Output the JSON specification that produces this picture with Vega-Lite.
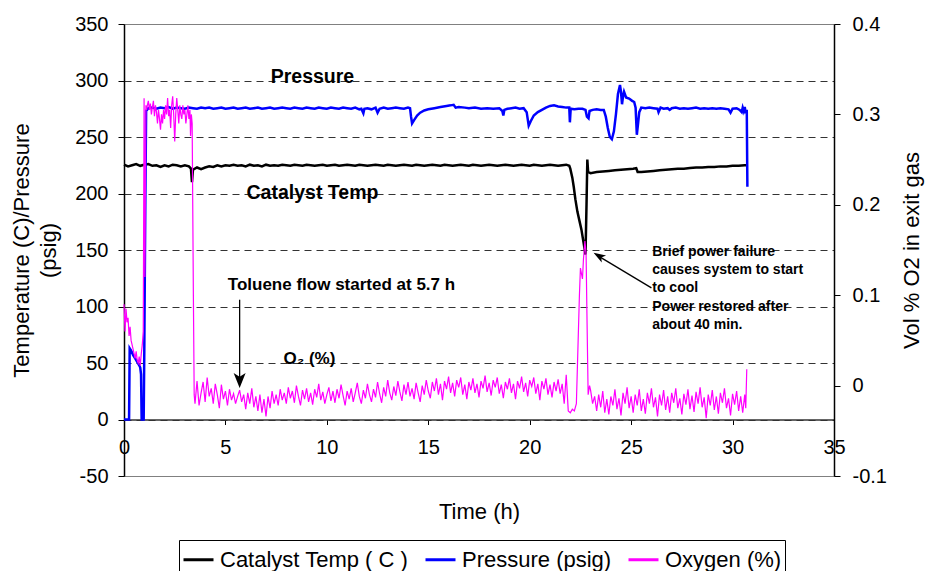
{
"$schema":"https://vega.github.io/schema/vega-lite/v6.json",
"width":710,"height":452,
"autosize":{"type":"none"},
"padding":{"left":124,"top":24,"right":91,"bottom":95},
"config":{
 "font":"Liberation Sans",
 "view":{"stroke":"#808080","strokeWidth":1},
 "axis":{"labelFont":"Liberation Sans","titleFont":"Liberation Sans","labelColor":"#000","titleColor":"#000","titleFontWeight":"normal","domainColor":"#000","tickColor":"#000","labelFontSize":20,"titleFontSize":22}
},
"datasets":{
"temp":[{"t":0,"v":225.5},{"t":0.2,"v":224},{"t":0.4,"v":225},{"t":0.6,"v":226},{"t":0.8,"v":224.5},{"t":1.0,"v":225.5},{"t":1.2,"v":226},{"t":1.4,"v":224.5},{"t":1.6,"v":225},{"t":1.8,"v":223.5},{"t":2.0,"v":225},{"t":2.2,"v":224},{"t":2.4,"v":225.5},{"t":2.6,"v":225},{"t":2.8,"v":224},{"t":3.0,"v":225},{"t":3.2,"v":224},{"t":3.3,"v":222},{"t":3.35,"v":210},{"t":3.4,"v":221},{"t":3.6,"v":223},{"t":3.8,"v":221.5},{"t":4.0,"v":223},{"t":4.2,"v":224},{"t":4.4,"v":223.5},{"t":4.6,"v":225},{"t":4.8,"v":224},{"t":5.0,"v":225},{"t":5.2,"v":224.5},{"t":5.4,"v":225.5},{"t":5.6,"v":224.5},{"t":5.8,"v":225},{"t":6.0,"v":224},{"t":6.2,"v":225.5},{"t":6.4,"v":224.5},{"t":6.6,"v":225},{"t":6.8,"v":224},{"t":7.0,"v":225.5},{"t":7.2,"v":224.5},{"t":7.4,"v":225},{"t":7.6,"v":224.5},{"t":7.8,"v":225.5},{"t":8.0,"v":225},{"t":8.2,"v":224.5},{"t":8.4,"v":225.5},{"t":8.6,"v":225},{"t":8.8,"v":224.5},{"t":9.0,"v":225.5},{"t":9.2,"v":225},{"t":9.4,"v":224.5},{"t":9.6,"v":225},{"t":9.8,"v":225.5},{"t":10.0,"v":224.5},{"t":10.2,"v":225},{"t":10.4,"v":225.5},{"t":10.6,"v":224.5},{"t":10.8,"v":225},{"t":11.0,"v":225.5},{"t":11.2,"v":225},{"t":11.4,"v":224.5},{"t":11.6,"v":225.5},{"t":11.8,"v":225},{"t":12.0,"v":224.5},{"t":12.2,"v":225},{"t":12.4,"v":225.5},{"t":12.6,"v":225},{"t":12.8,"v":224.5},{"t":13.0,"v":225.5},{"t":13.2,"v":225},{"t":13.4,"v":224.5},{"t":13.6,"v":225},{"t":13.8,"v":225.5},{"t":14.0,"v":225},{"t":14.2,"v":224.5},{"t":14.4,"v":225.5},{"t":14.6,"v":225},{"t":14.8,"v":224.5},{"t":15.0,"v":225},{"t":15.2,"v":225.5},{"t":15.4,"v":225},{"t":15.6,"v":224.5},{"t":15.8,"v":225.5},{"t":16.0,"v":225},{"t":16.2,"v":224.5},{"t":16.4,"v":225},{"t":16.6,"v":225.5},{"t":16.8,"v":225},{"t":17.0,"v":224.5},{"t":17.2,"v":225.5},{"t":17.4,"v":225},{"t":17.6,"v":224.5},{"t":17.8,"v":225},{"t":18.0,"v":225.5},{"t":18.2,"v":225},{"t":18.4,"v":224.5},{"t":18.6,"v":225},{"t":18.8,"v":225.5},{"t":19.0,"v":225},{"t":19.2,"v":224.5},{"t":19.4,"v":225},{"t":19.6,"v":225.5},{"t":19.8,"v":225},{"t":20.0,"v":224.5},{"t":20.2,"v":225.5},{"t":20.4,"v":225},{"t":20.6,"v":224.5},{"t":20.8,"v":225},{"t":21.0,"v":225.5},{"t":21.2,"v":225},{"t":21.4,"v":224.5},{"t":21.6,"v":225},{"t":21.8,"v":225.5},{"t":21.95,"v":224.5},{"t":22.0,"v":222},{"t":22.1,"v":214},{"t":22.17,"v":206},{"t":22.25,"v":195},{"t":22.35,"v":184},{"t":22.45,"v":176},{"t":22.55,"v":168},{"t":22.65,"v":157},{"t":22.75,"v":146},{"t":22.8,"v":190},{"t":22.84,"v":230},{"t":22.88,"v":219},{"t":23.0,"v":218},{"t":23.3,"v":219},{"t":23.6,"v":219.5},{"t":23.9,"v":220},{"t":24.2,"v":220.5},{"t":24.5,"v":221},{"t":24.8,"v":221.5},{"t":25.1,"v":222},{"t":25.25,"v":222.5},{"t":25.32,"v":219},{"t":25.5,"v":219},{"t":25.8,"v":219.5},{"t":26.1,"v":220},{"t":26.4,"v":220.5},{"t":26.7,"v":221},{"t":27.0,"v":221.5},{"t":27.3,"v":222},{"t":27.6,"v":222},{"t":27.9,"v":222.5},{"t":28.2,"v":223},{"t":28.5,"v":223},{"t":28.8,"v":223.5},{"t":29.1,"v":223.5},{"t":29.4,"v":224},{"t":29.7,"v":224},{"t":30.0,"v":224.5},{"t":30.3,"v":224.5},{"t":30.6,"v":225},{"t":30.72,"v":225}],
"pres":[{"t":0,"v":0},{"t":0.25,"v":0},{"t":0.28,"v":63},{"t":0.35,"v":61},{"t":0.45,"v":57},{"t":0.55,"v":54},{"t":0.65,"v":51},{"t":0.75,"v":48},{"t":0.8,"v":46},{"t":0.84,"v":40},{"t":0.87,"v":0},{"t":0.97,"v":0},{"t":1.0,"v":60},{"t":1.05,"v":190},{"t":1.09,"v":273},{"t":1.2,"v":275.5},{"t":1.4,"v":276},{"t":1.6,"v":275},{"t":1.8,"v":276},{"t":2.0,"v":275.5},{"t":2.2,"v":276.5},{"t":2.4,"v":275},{"t":2.6,"v":276},{"t":2.8,"v":275.5},{"t":3.0,"v":275},{"t":3.2,"v":276},{"t":3.4,"v":275.5},{"t":3.6,"v":275},{"t":3.8,"v":276},{"t":4.0,"v":275.5},{"t":4.2,"v":276},{"t":4.4,"v":275},{"t":4.6,"v":275.5},{"t":4.8,"v":276},{"t":5.0,"v":275},{"t":5.2,"v":275.5},{"t":5.4,"v":276},{"t":5.6,"v":275},{"t":5.8,"v":275.5},{"t":6.0,"v":276},{"t":6.2,"v":275},{"t":6.4,"v":275.5},{"t":6.6,"v":276},{"t":6.8,"v":275},{"t":7.0,"v":275.5},{"t":7.2,"v":276},{"t":7.4,"v":275},{"t":7.6,"v":275.5},{"t":7.8,"v":276},{"t":8.0,"v":275.5},{"t":8.2,"v":275},{"t":8.4,"v":276},{"t":8.6,"v":275.5},{"t":8.8,"v":275},{"t":9.0,"v":276},{"t":9.2,"v":275.5},{"t":9.4,"v":275},{"t":9.6,"v":276},{"t":9.8,"v":275.5},{"t":10.0,"v":275},{"t":10.2,"v":276},{"t":10.4,"v":275.5},{"t":10.6,"v":275},{"t":10.8,"v":276},{"t":11.0,"v":275.5},{"t":11.2,"v":275},{"t":11.4,"v":276},{"t":11.6,"v":274.5},{"t":11.7,"v":275},{"t":11.8,"v":271},{"t":11.85,"v":275},{"t":12.0,"v":275.5},{"t":12.2,"v":274.5},{"t":12.4,"v":276},{"t":12.5,"v":271.5},{"t":12.6,"v":275},{"t":12.8,"v":276},{"t":13.0,"v":275},{"t":13.2,"v":275.5},{"t":13.4,"v":276},{"t":13.6,"v":275.5},{"t":13.8,"v":275},{"t":14.0,"v":276},{"t":14.1,"v":275.5},{"t":14.15,"v":268},{"t":14.2,"v":262},{"t":14.3,"v":265},{"t":14.45,"v":269},{"t":14.6,"v":271.5},{"t":14.8,"v":273.5},{"t":15.0,"v":274.5},{"t":15.3,"v":275.5},{"t":15.6,"v":276.5},{"t":15.9,"v":277.5},{"t":16.1,"v":278},{"t":16.25,"v":278.5},{"t":16.35,"v":276},{"t":16.5,"v":276.5},{"t":16.8,"v":276},{"t":17.0,"v":275.5},{"t":17.3,"v":276},{"t":17.6,"v":275},{"t":17.9,"v":275.5},{"t":18.2,"v":275},{"t":18.5,"v":275.5},{"t":18.65,"v":273},{"t":18.7,"v":269},{"t":18.75,"v":274},{"t":18.9,"v":275},{"t":19.1,"v":275.5},{"t":19.3,"v":276},{"t":19.5,"v":275},{"t":19.7,"v":275.5},{"t":19.85,"v":272},{"t":19.95,"v":260},{"t":20.05,"v":264},{"t":20.2,"v":269},{"t":20.4,"v":272},{"t":20.6,"v":274},{"t":20.8,"v":276},{"t":21.0,"v":277.5},{"t":21.2,"v":278},{"t":21.4,"v":277},{"t":21.6,"v":276.5},{"t":21.8,"v":276},{"t":21.95,"v":276},{"t":21.98,"v":263},{"t":22.02,"v":275},{"t":22.2,"v":274.5},{"t":22.4,"v":275},{"t":22.6,"v":275},{"t":22.75,"v":274},{"t":22.82,"v":268},{"t":22.9,"v":266.5},{"t":22.95,"v":273},{"t":23.1,"v":274},{"t":23.3,"v":274.5},{"t":23.5,"v":274},{"t":23.65,"v":274},{"t":23.75,"v":268},{"t":23.85,"v":258},{"t":23.95,"v":250},{"t":24.05,"v":248},{"t":24.15,"v":255},{"t":24.25,"v":270},{"t":24.35,"v":288},{"t":24.45,"v":296},{"t":24.5,"v":290},{"t":24.55,"v":279},{"t":24.6,"v":286},{"t":24.65,"v":290},{"t":24.75,"v":285},{"t":24.9,"v":284},{"t":25.05,"v":282},{"t":25.15,"v":281},{"t":25.22,"v":276},{"t":25.28,"v":252},{"t":25.33,"v":260},{"t":25.4,"v":272},{"t":25.5,"v":276},{"t":25.7,"v":275.5},{"t":25.9,"v":276},{"t":26.1,"v":275.5},{"t":26.3,"v":275},{"t":26.35,"v":272},{"t":26.45,"v":276},{"t":26.6,"v":275},{"t":26.8,"v":275.5},{"t":26.9,"v":274},{"t":27.0,"v":275.5},{"t":27.2,"v":276},{"t":27.4,"v":275},{"t":27.6,"v":275.5},{"t":27.8,"v":275},{"t":28.0,"v":275.5},{"t":28.2,"v":276},{"t":28.4,"v":275},{"t":28.6,"v":275.5},{"t":28.8,"v":275},{"t":29.0,"v":275.5},{"t":29.2,"v":275},{"t":29.4,"v":275.5},{"t":29.6,"v":275},{"t":29.8,"v":274.5},{"t":29.9,"v":271.5},{"t":30.0,"v":275},{"t":30.2,"v":275.5},{"t":30.35,"v":274},{"t":30.45,"v":272},{"t":30.5,"v":276},{"t":30.55,"v":273},{"t":30.6,"v":276.5},{"t":30.65,"v":271},{"t":30.7,"v":274},{"t":30.73,"v":206}],
"oxy":[{"t":0,"v":0.09},{"t":0.05,"v":0.06},{"t":0.1,"v":0.085},{"t":0.15,"v":0.07},{"t":0.2,"v":0.075},{"t":0.25,"v":0.055},{"t":0.3,"v":0.065},{"t":0.35,"v":0.05},{"t":0.4,"v":0.045},{"t":0.45,"v":0.04},{"t":0.5,"v":0.035},{"t":0.55,"v":0.03},{"t":0.6,"v":0.038},{"t":0.65,"v":0.028},{"t":0.7,"v":0.025},{"t":0.75,"v":0.032},{"t":0.8,"v":0.022},{"t":0.85,"v":0.035},{"t":0.9,"v":0.045},{"t":0.95,"v":0.06},{"t":0.99,"v":0.318},{"t":1.03,"v":0.12},{"t":1.08,"v":0.31},{"t":1.12,"v":0.305},{"t":1.15,"v":0.31},{"t":1.2,"v":0.315},{"t":1.25,"v":0.305},{"t":1.3,"v":0.312},{"t":1.35,"v":0.3},{"t":1.4,"v":0.308},{"t":1.45,"v":0.315},{"t":1.5,"v":0.298},{"t":1.55,"v":0.31},{"t":1.6,"v":0.303},{"t":1.65,"v":0.29},{"t":1.7,"v":0.305},{"t":1.75,"v":0.295},{"t":1.8,"v":0.283},{"t":1.85,"v":0.3},{"t":1.9,"v":0.29},{"t":1.95,"v":0.305},{"t":2.0,"v":0.295},{"t":2.05,"v":0.31},{"t":2.1,"v":0.3},{"t":2.15,"v":0.318},{"t":2.2,"v":0.298},{"t":2.25,"v":0.305},{"t":2.3,"v":0.285},{"t":2.35,"v":0.31},{"t":2.4,"v":0.32},{"t":2.45,"v":0.3},{"t":2.5,"v":0.27},{"t":2.55,"v":0.3},{"t":2.6,"v":0.318},{"t":2.65,"v":0.305},{"t":2.7,"v":0.29},{"t":2.75,"v":0.31},{"t":2.8,"v":0.3},{"t":2.85,"v":0.295},{"t":2.9,"v":0.31},{"t":2.95,"v":0.3},{"t":3.0,"v":0.305},{"t":3.05,"v":0.29},{"t":3.1,"v":0.3},{"t":3.15,"v":0.31},{"t":3.2,"v":0.295},{"t":3.25,"v":0.305},{"t":3.28,"v":0.276},{"t":3.32,"v":0.3},{"t":3.36,"v":0.29},{"t":3.42,"v":0.1},{"t":3.46,"v":-0.01},{"t":3.5,"v":-0.02},{"t":3.6,"v":0.005},{"t":3.7,"v":-0.022},{"t":3.8,"v":-0.008},{"t":3.9,"v":0.004},{"t":4.0,"v":-0.018},{"t":4.1,"v":0.009},{"t":4.2,"v":-0.012},{"t":4.3,"v":-0.003},{"t":4.4,"v":-0.02},{"t":4.5,"v":0.002},{"t":4.6,"v":-0.01},{"t":4.7,"v":-0.025},{"t":4.8,"v":0.001},{"t":4.9,"v":-0.015},{"t":5.0,"v":-0.006},{"t":5.1,"v":-0.022},{"t":5.2,"v":-0.004},{"t":5.3,"v":-0.016},{"t":5.4,"v":-0.009},{"t":5.5,"v":-0.02},{"t":5.6,"v":-0.012},{"t":5.7,"v":-0.005},{"t":5.8,"v":-0.018},{"t":5.9,"v":-0.01},{"t":6.0,"v":-0.026},{"t":6.1,"v":-0.008},{"t":6.2,"v":-0.02},{"t":6.3,"v":-0.003},{"t":6.4,"v":-0.024},{"t":6.5,"v":-0.012},{"t":6.6,"v":-0.028},{"t":6.7,"v":-0.01},{"t":6.8,"v":-0.03},{"t":6.9,"v":-0.015},{"t":7.0,"v":-0.034},{"t":7.1,"v":-0.012},{"t":7.2,"v":-0.025},{"t":7.3,"v":-0.006},{"t":7.4,"v":-0.02},{"t":7.5,"v":-0.01},{"t":7.6,"v":-0.022},{"t":7.7,"v":-0.004},{"t":7.8,"v":-0.016},{"t":7.9,"v":-0.008},{"t":8.0,"v":-0.02},{"t":8.1,"v":-0.002},{"t":8.2,"v":-0.014},{"t":8.3,"v":-0.006},{"t":8.4,"v":-0.019},{"t":8.5,"v":0.0},{"t":8.6,"v":-0.012},{"t":8.7,"v":-0.022},{"t":8.8,"v":-0.005},{"t":8.9,"v":-0.015},{"t":9.0,"v":-0.003},{"t":9.1,"v":-0.018},{"t":9.2,"v":-0.008},{"t":9.3,"v":-0.021},{"t":9.4,"v":-0.004},{"t":9.5,"v":-0.013},{"t":9.6,"v":0.002},{"t":9.7,"v":-0.016},{"t":9.8,"v":-0.007},{"t":9.9,"v":-0.02},{"t":10.0,"v":-0.01},{"t":10.1,"v":-0.002},{"t":10.2,"v":-0.017},{"t":10.3,"v":-0.006},{"t":10.4,"v":-0.019},{"t":10.5,"v":-0.004},{"t":10.6,"v":-0.014},{"t":10.7,"v":0.001},{"t":10.8,"v":-0.011},{"t":10.9,"v":-0.022},{"t":11.0,"v":-0.006},{"t":11.1,"v":-0.015},{"t":11.2,"v":-0.003},{"t":11.3,"v":-0.018},{"t":11.4,"v":-0.008},{"t":11.5,"v":0.003},{"t":11.6,"v":-0.012},{"t":11.7,"v":-0.02},{"t":11.8,"v":-0.005},{"t":11.9,"v":-0.014},{"t":12.0,"v":0.002},{"t":12.1,"v":-0.01},{"t":12.2,"v":-0.018},{"t":12.3,"v":-0.004},{"t":12.4,"v":-0.013},{"t":12.5,"v":0.004},{"t":12.6,"v":-0.009},{"t":12.7,"v":-0.019},{"t":12.8,"v":-0.002},{"t":12.9,"v":-0.012},{"t":13.0,"v":0.006},{"t":13.1,"v":-0.008},{"t":13.2,"v":-0.016},{"t":13.3,"v":-0.001},{"t":13.4,"v":-0.011},{"t":13.5,"v":0.005},{"t":13.6,"v":-0.007},{"t":13.7,"v":-0.017},{"t":13.8,"v":0.001},{"t":13.9,"v":-0.01},{"t":14.0,"v":0.004},{"t":14.1,"v":-0.012},{"t":14.2,"v":-0.003},{"t":14.3,"v":-0.015},{"t":14.4,"v":0.003},{"t":14.5,"v":-0.008},{"t":14.6,"v":-0.018},{"t":14.7,"v":0.0},{"t":14.8,"v":-0.01},{"t":14.9,"v":0.006},{"t":15.0,"v":-0.006},{"t":15.1,"v":-0.014},{"t":15.2,"v":0.004},{"t":15.3,"v":-0.006},{"t":15.4,"v":0.008},{"t":15.5,"v":-0.01},{"t":15.6,"v":0.002},{"t":15.7,"v":-0.016},{"t":15.8,"v":0.005},{"t":15.9,"v":-0.004},{"t":16.0,"v":0.01},{"t":16.1,"v":-0.008},{"t":16.2,"v":0.003},{"t":16.3,"v":-0.012},{"t":16.4,"v":0.006},{"t":16.5,"v":-0.002},{"t":16.6,"v":0.009},{"t":16.7,"v":-0.01},{"t":16.8,"v":0.001},{"t":16.9,"v":-0.015},{"t":17.0,"v":0.004},{"t":17.1,"v":-0.005},{"t":17.2,"v":0.008},{"t":17.3,"v":-0.008},{"t":17.4,"v":0.002},{"t":17.5,"v":-0.013},{"t":17.6,"v":0.005},{"t":17.7,"v":-0.003},{"t":17.8,"v":0.011},{"t":17.9,"v":-0.007},{"t":18.0,"v":0.003},{"t":18.1,"v":-0.011},{"t":18.2,"v":0.006},{"t":18.3,"v":-0.002},{"t":18.4,"v":0.009},{"t":18.5,"v":-0.009},{"t":18.6,"v":0.001},{"t":18.7,"v":-0.014},{"t":18.8,"v":0.004},{"t":18.9,"v":-0.004},{"t":19.0,"v":0.008},{"t":19.1,"v":-0.008},{"t":19.2,"v":0.002},{"t":19.3,"v":-0.015},{"t":19.4,"v":0.005},{"t":19.5,"v":-0.003},{"t":19.6,"v":0.01},{"t":19.7,"v":-0.007},{"t":19.8,"v":0.003},{"t":19.9,"v":-0.012},{"t":20.0,"v":0.006},{"t":20.1,"v":-0.001},{"t":20.2,"v":0.009},{"t":20.3,"v":-0.009},{"t":20.4,"v":0.002},{"t":20.5,"v":-0.016},{"t":20.6,"v":0.005},{"t":20.7,"v":-0.004},{"t":20.8,"v":0.008},{"t":20.9,"v":-0.01},{"t":21.0,"v":0.001},{"t":21.1,"v":-0.013},{"t":21.2,"v":0.004},{"t":21.3,"v":-0.006},{"t":21.4,"v":0.007},{"t":21.5,"v":-0.009},{"t":21.6,"v":0.002},{"t":21.7,"v":-0.02},{"t":21.8,"v":0.012},{"t":21.9,"v":-0.028},{"t":22.0,"v":-0.03},{"t":22.1,"v":-0.026},{"t":22.2,"v":-0.028},{"t":22.3,"v":-0.02},{"t":22.35,"v":0.02},{"t":22.45,"v":0.1},{"t":22.5,"v":0.13},{"t":22.6,"v":0.118},{"t":22.65,"v":0.14},{"t":22.72,"v":0.16},{"t":22.78,"v":0.145},{"t":22.82,"v":0.08},{"t":22.88,"v":-0.01},{"t":22.95,"v":0.0},{"t":23.0,"v":-0.005},{"t":23.1,"v":-0.02},{"t":23.2,"v":-0.012},{"t":23.3,"v":-0.028},{"t":23.4,"v":-0.01},{"t":23.5,"v":-0.024},{"t":23.6,"v":-0.006},{"t":23.7,"v":-0.03},{"t":23.8,"v":-0.015},{"t":23.9,"v":-0.032},{"t":24.0,"v":-0.012},{"t":24.1,"v":-0.022},{"t":24.2,"v":-0.004},{"t":24.3,"v":-0.026},{"t":24.4,"v":-0.014},{"t":24.5,"v":-0.033},{"t":24.6,"v":-0.008},{"t":24.7,"v":-0.02},{"t":24.8,"v":-0.002},{"t":24.9,"v":-0.025},{"t":25.0,"v":-0.012},{"t":25.1,"v":-0.03},{"t":25.2,"v":-0.01},{"t":25.3,"v":-0.022},{"t":25.4,"v":-0.004},{"t":25.5,"v":-0.028},{"t":25.6,"v":-0.015},{"t":25.7,"v":-0.031},{"t":25.8,"v":-0.008},{"t":25.9,"v":-0.02},{"t":26.0,"v":-0.003},{"t":26.1,"v":-0.024},{"t":26.2,"v":-0.013},{"t":26.3,"v":-0.034},{"t":26.4,"v":-0.01},{"t":26.5,"v":-0.022},{"t":26.6,"v":-0.005},{"t":26.7,"v":-0.027},{"t":26.8,"v":-0.012},{"t":26.9,"v":-0.03},{"t":27.0,"v":-0.008},{"t":27.1,"v":-0.019},{"t":27.2,"v":-0.003},{"t":27.3,"v":-0.025},{"t":27.4,"v":-0.014},{"t":27.5,"v":-0.032},{"t":27.6,"v":-0.009},{"t":27.7,"v":-0.021},{"t":27.8,"v":-0.004},{"t":27.9,"v":-0.026},{"t":28.0,"v":-0.011},{"t":28.1,"v":-0.029},{"t":28.2,"v":-0.007},{"t":28.3,"v":-0.02},{"t":28.4,"v":-0.002},{"t":28.5,"v":-0.024},{"t":28.6,"v":-0.013},{"t":28.7,"v":-0.036},{"t":28.8,"v":-0.01},{"t":28.9,"v":-0.022},{"t":29.0,"v":-0.005},{"t":29.1,"v":-0.027},{"t":29.2,"v":-0.012},{"t":29.3,"v":-0.031},{"t":29.4,"v":-0.008},{"t":29.5,"v":-0.019},{"t":29.6,"v":-0.003},{"t":29.7,"v":-0.025},{"t":29.8,"v":-0.014},{"t":29.9,"v":-0.033},{"t":30.0,"v":-0.009},{"t":30.1,"v":-0.021},{"t":30.2,"v":-0.006},{"t":30.3,"v":-0.028},{"t":30.4,"v":-0.012},{"t":30.5,"v":-0.03},{"t":30.6,"v":-0.01},{"t":30.65,"v":-0.025},{"t":30.7,"v":0.018}]
},
"layer":[
 {"layer":[
  {"data":{"name":"temp"},"mark":{"type":"line","strokeWidth":2.5},
   "encoding":{
    "x":{"field":"t","type":"quantitative","scale":{"domain":[0,35],"nice":false},
     "axis":{"values":[0,5,10,15,20,25,30,35],"grid":false,"offset":-56.5,"tickSize":5,"labelPadding":13,"title":"Time (h)","titlePadding":44,"domainColor":"#333","domainWidth":1.5,"labelFlush":false,"labelOverlap":false}},
    "y":{"field":"v","type":"quantitative","scale":{"domain":[-50,350],"nice":false},
     "axis":{"values":[-50,0,50,100,150,200,250,300,350],"title":["Temperature (C)/Pressure","(psig)"],"titleLineHeight":27,"tickSize":6,"labelPadding":10,"titlePadding":14,"domainWidth":1.5,"grid":true,"gridColor":{"condition":{"test":"datum.value==350||datum.value==-50","value":"#808080"},"value":"#333333"},"gridDash":{"condition":{"test":"datum.value==350||datum.value==-50","value":[]},"value":[7,5]},"gridWidth":1,"labelExpr":"replace(datum.label,'−','-')"}},
    "color":{"datum":"Catalyst Temp ( C )","type":"nominal",
     "scale":{"domain":["Catalyst Temp ( C )","Pressure (psig)","Oxygen (%)"],"range":["#000000","#0000ff","#ff00ff"]},
     "legend":{"orient":"none","legendX":55,"legendY":516,"direction":"horizontal","title":null,"symbolType":"stroke","symbolSize":900,"symbolStrokeWidth":3,"labelFontSize":22,"labelFont":"Liberation Sans","labelColor":"#000","strokeColor":"#000","padding":3,"columnPadding":10,"labelOffset":5,"labelLimit":400}}
   }},
  {"data":{"name":"pres"},"mark":{"type":"line","strokeWidth":2.5},
   "encoding":{"x":{"field":"t","type":"quantitative"},"y":{"field":"v","type":"quantitative"},"color":{"datum":"Pressure (psig)","type":"nominal"}}},
  {"data":{"values":[{"label":"Pressure","t":9.29,"v":303},{"label":"Catalyst Temp","t":9.29,"v":200.4}]},
   "mark":{"type":"text","fontWeight":"bold","fontSize":19.5,"align":"center","baseline":"middle","font":"Liberation Sans","color":"#000"},
   "encoding":{"x":{"field":"t","type":"quantitative"},"y":{"field":"v","type":"quantitative"},"text":{"field":"label"}}},
  {"data":{"values":[{"label":"Toluene flow started at 5.7 h","t":10.72,"v":119},{"label":"O₂ (%)","t":9.14,"v":53.5}]},
   "mark":{"type":"text","fontWeight":"bold","fontSize":17,"align":"center","baseline":"middle","font":"Liberation Sans","color":"#000"},
   "encoding":{"x":{"field":"t","type":"quantitative"},"y":{"field":"v","type":"quantitative"},"text":{"field":"label"}}},
  {"data":{"values":[{"label":["Brief power failure","causes system to start","to cool","Power restored after","about 40 min."],"t":26.04,"v":148.5}]},
   "mark":{"type":"text","fontWeight":"bold","fontSize":14,"lineHeight":18.3,"align":"left","baseline":"middle","font":"Liberation Sans","color":"#000"},
   "encoding":{"x":{"field":"t","type":"quantitative"},"y":{"field":"v","type":"quantitative"},"text":{"field":"label"}}},
  {"data":{"values":[{"t":5.7,"v":106,"t2":5.7,"v2":36},{"t":26.0,"v":116.5,"t2":23.35,"v2":145}]},
   "mark":{"type":"rule","color":"#000","strokeWidth":1.3},
   "encoding":{"x":{"field":"t","type":"quantitative"},"y":{"field":"v","type":"quantitative"},"x2":{"field":"t2"},"y2":{"field":"v2"}}},
  {"data":{"values":[{"t":5.7,"v":27.9}]},
   "mark":{"type":"point","filled":true,"color":"#000","opacity":1,"size":900,"shape":"M-0.4,-1 L0,0 L0.4,-1 L0,-0.75 Z"},
   "encoding":{"x":{"field":"t","type":"quantitative"},"y":{"field":"v","type":"quantitative"}}},
  {"data":{"values":[{"t":23.15,"v":147.5}]},
   "mark":{"type":"point","filled":true,"color":"#000","opacity":1,"size":576,"angle":121,"shape":"M-0.35,-1 L0,0 L0.35,-1 L0,-0.75 Z"},
   "encoding":{"x":{"field":"t","type":"quantitative"},"y":{"field":"v","type":"quantitative"}}}
 ]},
 {"data":{"name":"oxy"},"mark":{"type":"line","strokeWidth":1.2},
  "encoding":{
   "x":{"field":"t","type":"quantitative"},
   "y":{"field":"v","type":"quantitative","scale":{"domain":[-0.1,0.4],"nice":false},
    "axis":{"orient":"right","values":[-0.1,0,0.1,0.2,0.3,0.4],"format":"~g","grid":false,"tickSize":6,"labelPadding":12,"title":"Vol % O2 in exit gas","titleAngle":270,"titlePadding":37,"domainWidth":1.5,"labelExpr":"replace(datum.label,'−','-')"}},
   "color":{"datum":"Oxygen (%)","type":"nominal"}}}
],
"resolve":{"scale":{"y":"independent"}}
}
